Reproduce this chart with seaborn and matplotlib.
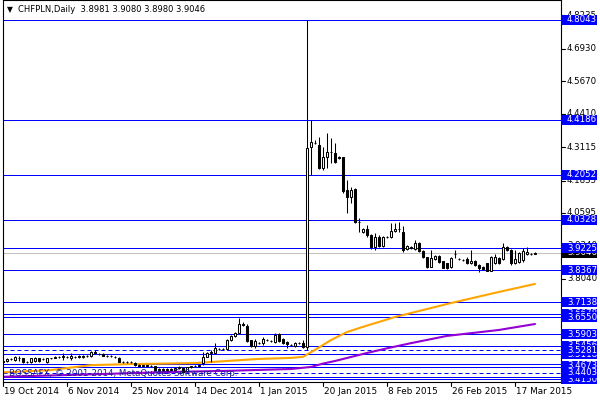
import matplotlib
matplotlib.use("Agg")
import matplotlib.pyplot as plt
import matplotlib.transforms as mtransforms
from matplotlib.patches import Rectangle
from matplotlib.lines import Line2D
import seaborn as sns

sns.set_style("white")
plt.rcParams['font.family'] = ['DejaVu Sans']

# ---------------- data ----------------
title_text = "CHFPLN,Daily  3.8981 3.9080 3.8980 3.9046"
watermark = "BOSSAFX, \u00a9 2001-2014, MetaQuotes Software Corp."

opens = [3.486, 3.486, 3.493, 3.489, 3.498, 3.497, 3.484, 3.483, 3.487, 3.497,
         3.493, 3.483, 3.497, 3.499, 3.501, 3.502, 3.503, 3.497, 3.501, 3.503,
         3.503, 3.504, 3.506, 3.521, 3.514, 3.513, 3.506, 3.505, 3.503, 3.498,
         3.484, 3.483, 3.482, 3.480, 3.470, 3.468, 3.469, 3.467, 3.466, 3.452,
         3.455, 3.452, 3.456, 3.453, 3.458, 3.459, 3.446, 3.461, 3.465, 3.466,
         3.478, 3.503, 3.517, 3.518, 3.534, 3.532, 3.531, 3.567, 3.584, 3.595,
         3.629, 3.621, 3.567, 3.545, 3.556, 3.555, 3.568, 3.565, 3.561, 3.590,
         3.570, 3.561, 3.549, 3.544, 3.555, 3.557, 3.541, 4.313, 4.330, 4.321,
         4.231, 4.276, 4.293, 4.292, 4.274, 4.273, 4.147, 4.120, 4.151, 4.025,
         3.985, 3.996, 3.973, 3.926, 3.967, 3.932, 3.967, 3.966, 3.988, 3.996,
         3.986, 3.919, 3.925, 3.919, 3.942, 3.912, 3.887, 3.851, 3.879, 3.891,
         3.872, 3.863, 3.850, 3.900, 3.881, 3.878, 3.880, 3.863, 3.874, 3.857,
         3.850, 3.863, 3.835, 3.863, 3.883, 3.879, 3.928, 3.915, 3.863, 3.870,
         3.876, 3.900, 3.901, 3.8981]
highs = [3.489, 3.497, 3.497, 3.505, 3.506, 3.499, 3.486, 3.499, 3.500, 3.499,
         3.497, 3.499, 3.499, 3.504, 3.504, 3.517, 3.505, 3.517, 3.506, 3.508,
         3.508, 3.510, 3.525, 3.529, 3.518, 3.515, 3.510, 3.508, 3.506, 3.500,
         3.487, 3.486, 3.486, 3.482, 3.473, 3.472, 3.471, 3.471, 3.468, 3.458,
         3.458, 3.460, 3.459, 3.461, 3.465, 3.461, 3.463, 3.468, 3.470, 3.474,
         3.522, 3.522, 3.529, 3.554, 3.537, 3.537, 3.570, 3.587, 3.598, 3.652,
         3.637, 3.629, 3.569, 3.570, 3.559, 3.578, 3.571, 3.569, 3.594, 3.595,
         3.573, 3.563, 3.551, 3.560, 3.558, 3.567, 4.8043, 4.4186, 4.339, 4.353,
         4.314, 4.369, 4.348, 4.328, 4.280, 4.275, 4.186, 4.160, 4.155, 4.039,
         4.000, 4.012, 3.976, 3.980, 3.974, 3.970, 3.970, 4.019, 4.020, 4.025,
         4.008, 3.934, 3.929, 3.954, 3.946, 3.915, 3.889, 3.915, 3.895, 3.895,
         3.874, 3.866, 3.887, 3.915, 3.885, 3.880, 3.889, 3.915, 3.877, 3.860,
         3.853, 3.866, 3.893, 3.899, 3.887, 3.941, 3.932, 3.918, 3.915, 3.908,
         3.922, 3.926, 3.904, 3.9080]
lows = [3.481, 3.483, 3.489, 3.486, 3.486, 3.480, 3.479, 3.480, 3.484, 3.484,
        3.489, 3.478, 3.492, 3.497, 3.497, 3.490, 3.498, 3.490, 3.498, 3.499,
        3.499, 3.501, 3.503, 3.513, 3.510, 3.504, 3.503, 3.500, 3.498, 3.482,
        3.479, 3.478, 3.479, 3.466, 3.465, 3.465, 3.464, 3.464, 3.450, 3.449,
        3.448, 3.449, 3.450, 3.451, 3.455, 3.441, 3.443, 3.458, 3.462, 3.462,
        3.471, 3.500, 3.484, 3.515, 3.529, 3.529, 3.528, 3.564, 3.580, 3.594,
        3.621, 3.561, 3.540, 3.535, 3.551, 3.548, 3.563, 3.560, 3.554, 3.561,
        3.552, 3.535, 3.545, 3.541, 3.551, 3.535, 3.530, 4.2052, 4.326, 4.229,
        4.224, 4.231, 4.251, 4.250, 4.266, 4.135, 4.058, 4.096, 4.018, 3.986,
        3.982, 3.967, 3.919, 3.915, 3.926, 3.926, 3.962, 3.961, 3.984, 3.985,
        3.909, 3.915, 3.920, 3.915, 3.908, 3.883, 3.847, 3.848, 3.875, 3.866,
        3.844, 3.840, 3.846, 3.883, 3.877, 3.873, 3.861, 3.861, 3.853, 3.831,
        3.836, 3.832, 3.832, 3.860, 3.860, 3.875, 3.910, 3.859, 3.861, 3.866,
        3.870, 3.897, 3.897, 3.8980]
closes = [3.484, 3.494, 3.492, 3.501, 3.497, 3.483, 3.482, 3.497, 3.497, 3.487,
          3.492, 3.497, 3.496, 3.502, 3.501, 3.505, 3.501, 3.505, 3.502, 3.503,
          3.504, 3.506, 3.522, 3.516, 3.514, 3.507, 3.507, 3.504, 3.501, 3.484,
          3.483, 3.482, 3.483, 3.470, 3.468, 3.469, 3.467, 3.468, 3.452, 3.455,
          3.452, 3.456, 3.453, 3.458, 3.462, 3.444, 3.461, 3.465, 3.466, 3.470,
          3.503, 3.518, 3.519, 3.536, 3.532, 3.533, 3.567, 3.583, 3.595, 3.629,
          3.627, 3.565, 3.545, 3.563, 3.555, 3.571, 3.567, 3.564, 3.587, 3.565,
          3.555, 3.552, 3.548, 3.557, 3.554, 3.541, 4.309, 4.333, 4.328, 4.231,
          4.276, 4.295, 4.295, 4.254, 4.272, 4.144, 4.119, 4.147, 4.023, 4.023,
          3.996, 3.973, 3.928, 3.967, 3.932, 3.964, 3.966, 3.988, 3.997, 3.995,
          3.915, 3.930, 3.924, 3.942, 3.912, 3.887, 3.851, 3.886, 3.891, 3.870,
          3.846, 3.846, 3.884, 3.899, 3.880, 3.876, 3.866, 3.874, 3.857, 3.844,
          3.840, 3.835, 3.889, 3.889, 3.863, 3.928, 3.915, 3.863, 3.879, 3.904,
          3.912, 3.909, 3.900, 3.9046]

date_labels = ["19 Oct 2014", "6 Nov 2014", "25 Nov 2014", "14 Dec 2014", "1 Jan 2015",
               "20 Jan 2015", "8 Feb 2015", "26 Feb 2015", "17 Mar 2015"]
date_label_bars = [0, 16, 32, 48, 64, 80, 96, 112, 128]

ma_orange_bars = [0, 12, 22, 32, 48, 56, 64, 72, 75, 78, 82, 86, 90, 98, 112, 124, 133]
ma_orange_vals = [3.442, 3.451, 3.470, 3.474, 3.478, 3.486, 3.494, 3.498, 3.502, 3.529,
                  3.567, 3.598, 3.618, 3.656, 3.710, 3.753, 3.784]
ma_purple_bars = [0, 12, 30, 40, 56, 72, 77, 80, 83, 91, 96, 102, 111, 124, 133]
ma_purple_vals = [3.425, 3.430, 3.438, 3.443, 3.448, 3.455, 3.463, 3.476, 3.486, 3.517,
                  3.535, 3.555, 3.583, 3.606, 3.629]

levels_solid = [4.8043, 4.4186, 4.2052, 4.0328, 3.9225, 3.8367, 3.7138, 3.6660, 3.6550,
                3.5903, 3.5430, 3.5118, 3.4760, 3.4620, 3.4240, 3.4150]
levels_dashed = [3.5281, 3.4403]
box_labels_hidden = [3.6678, 3.5456, 3.5118, 3.4150]
box_labels = [4.8043, 4.4186, 4.2052, 4.0328, 3.9225, 3.8367, 3.7138, 3.6550, 3.5903,
              3.4673, 3.5281, 3.4403]
axis_ticks = [4.8235, 4.6930, 4.5670, 4.4410, 4.3115, 4.1835, 4.0595, 3.9340, 3.8040]
last_price = 3.9046

# ---------------- layout ----------------
W, H = 600, 400
ax_left_px, ax_right_px, ax_top_px, ax_bot_px = 3, 561, 0, 382
fig = plt.figure(figsize=(6, 4), dpi=100)
ax = fig.add_axes([ax_left_px / W, (H - ax_bot_px) / H,
                   (ax_right_px - ax_left_px) / W, (ax_bot_px - ax_top_px) / H])
ymin, ymax = 3.4048, 4.8816
ax.set_ylim(ymin, ymax)
ax.set_xlim(0, (ax_right_px - ax_left_px) / 4)
px_per_price = (ax_bot_px - ax_top_px) / (ymax - ymin)
axw_px = ax_right_px - ax_left_px
ax.set_xticks([])
ax.set_yticks([])
for s in ax.spines.values():
    s.set_color('black')
    s.set_linewidth(0.8)

blue = '#0000ff'
# levels
for p in levels_solid:
    ax.axhline(p, color=blue, lw=0.72, zorder=2)
for p in levels_dashed:
    ax.axhline(p, color=blue, lw=0.72, ls=(0, (4, 3)), zorder=2)
ax.axhline(last_price, color='#c0c0c0', lw=0.72, zorder=2)

# moving averages
sns.lineplot(x=ma_orange_bars, y=ma_orange_vals, color='#ffa500', lw=1.5, ax=ax, zorder=2.5)
sns.lineplot(x=ma_purple_bars, y=ma_purple_vals, color='#9400d3', lw=1.5, ax=ax, zorder=2.5)

# candles
idx = list(range(len(opens)))
ax.vlines(idx, lows, highs, color='black', lw=0.75, zorder=3)
bottoms = [min(o, c) for o, c in zip(opens, closes)]
heights = [max(abs(c - o), 0.0004) for o, c in zip(opens, closes)]
colors = ['white' if c >= o else 'black' for o, c in zip(opens, closes)]
ax.bar(idx, heights, bottom=bottoms, width=0.5, color=colors, edgecolor='black',
       linewidth=0.75, zorder=4)

# watermark
ax.text(6 / axw_px, (ax_bot_px - 374) / (ax_bot_px - ax_top_px), watermark,
        transform=ax.transAxes, fontsize=6.2, color='#1c1c8c', va='center', ha='left', zorder=6)

# title
fig.text(7 / W, 1 - 10 / H, "\u25bc", fontsize=5.5, color='black', va='center', ha='left')
fig.text(18 / W, 1 - 10 / H, title_text, fontsize=6.0, color='black', va='center', ha='left')

# right price scale
trans = mtransforms.blended_transform_factory(ax.transAxes, ax.transData)
box_w = 36 / axw_px
box_h = 10 / px_per_price
for p in axis_ticks:
    ax.add_line(Line2D([1.0, 1.0 + 4 / axw_px], [p, p], transform=trans, color='black',
                       lw=0.8, clip_on=False))
    ax.text(1.0 + 6 / axw_px, p, f"{p:.4f}", transform=trans, fontsize=6.2, color='black',
            va='center', ha='left', clip_on=False, zorder=9)


def price_box(p, fc, tc, z):
    ax.add_patch(Rectangle((1.0, p - box_h / 2), box_w, box_h, transform=trans,
                           facecolor=fc, edgecolor='none', clip_on=False, zorder=z))
    ax.text(1.0 + 6 / axw_px, p, f"{p:.4f}", transform=trans, fontsize=6.2, color=tc,
            va='center', ha='left', clip_on=False, zorder=z + 0.5)


z = 10
price_box(last_price, 'black', 'white', z)
for p in box_labels_hidden:
    z += 1
    price_box(p, blue, 'white', z)
for p in box_labels:
    z += 1
    price_box(p, blue, 'white', z)

# date axis
xt = mtransforms.blended_transform_factory(ax.transData, ax.transAxes)
for b, lab in zip(date_label_bars, date_labels):
    ax.add_line(Line2D([b, b], [0, -4 / (ax_bot_px - ax_top_px)], transform=xt,
                       color='black', lw=0.8, clip_on=False))
    ax.text(b + 0.2, -5 / (ax_bot_px - ax_top_px), lab, transform=xt,
            fontsize=6.4, color='black', va='top', ha='left', clip_on=False)

fig.savefig("out.png", dpi=100)
